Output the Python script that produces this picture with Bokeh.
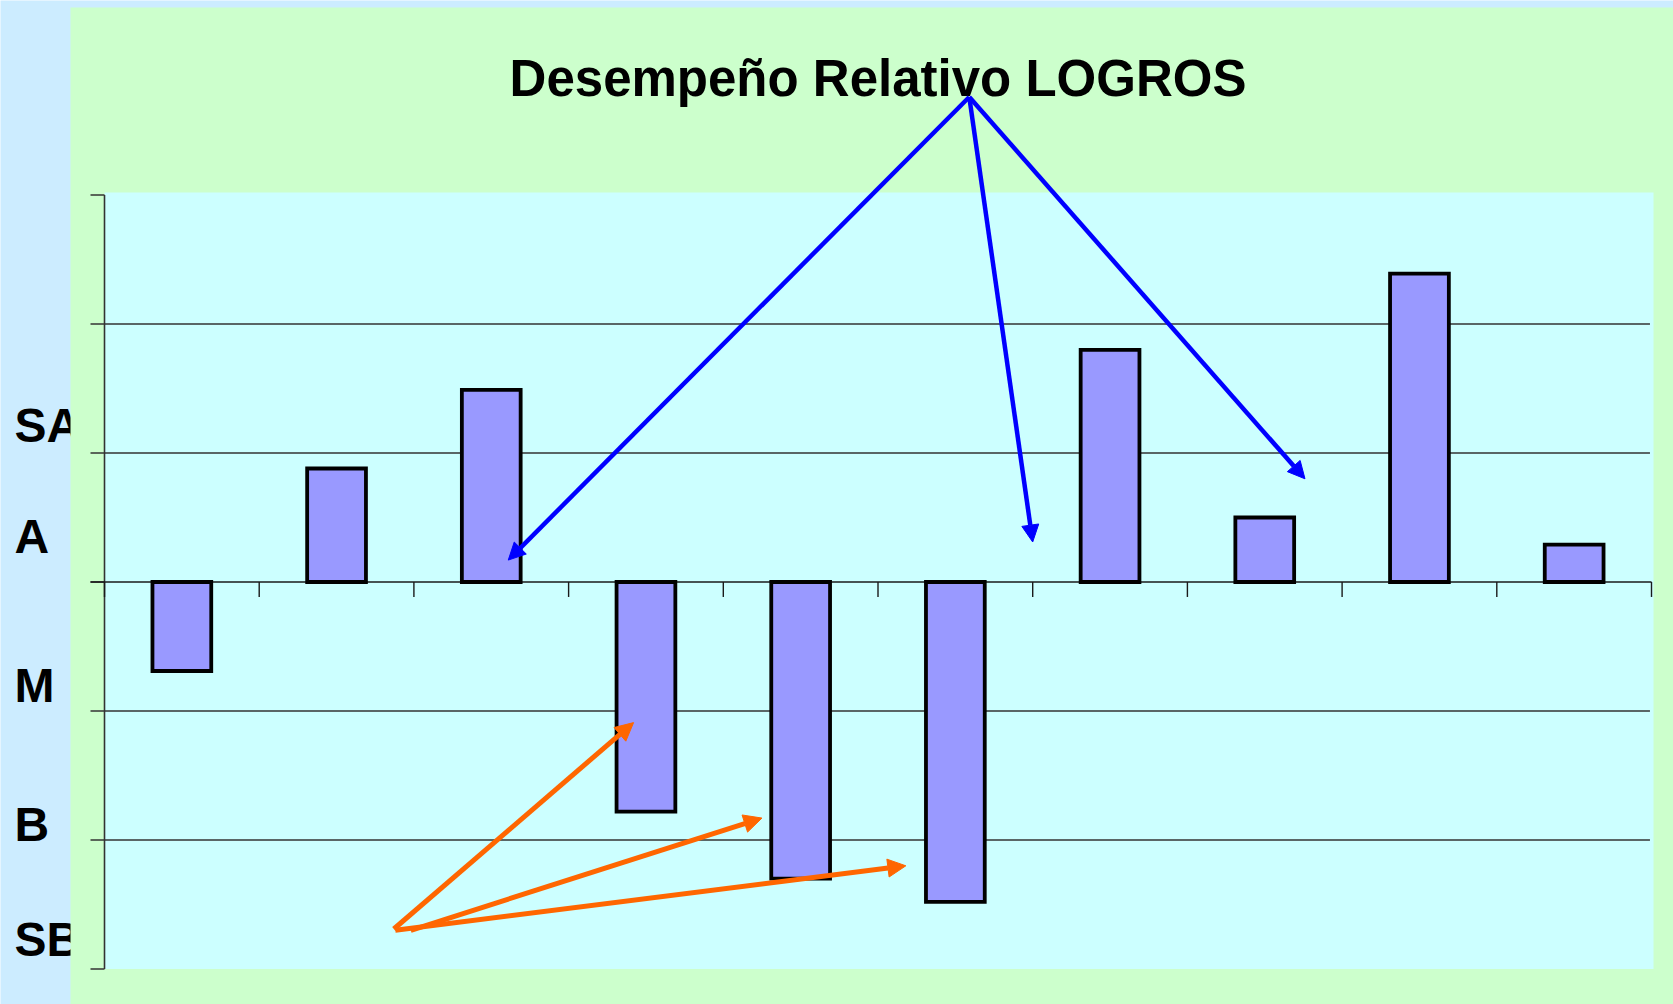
from bokeh.plotting import figure
from bokeh.models import Range1d, Arrow, NormalHead, ColumnDataSource
from bokeh.core.properties import value
from bokeh.embed import file_html
from bokeh.resources import INLINE

# ---------------- data ----------------
title_text = "Desempeño Relativo LOGROS"
bar_index = [0, 1, 2, 3, 4, 5, 6, 7, 8, 9]
bar_values = [-0.69, 0.88, 1.49, -1.78, -2.30, -2.48, 1.80, 0.50, 2.39, 0.29]
level_labels = ["SA", "A", "M", "B", "SB"]
level_label_y = [1.21, 0.35, -0.80, -1.88, -2.77]
y_ticks = [-3, -2, -1, 0, 1, 2, 3]
grid_levels = [-2, -1, 1, 2]
x_ticks = [0, 1, 2, 3, 4, 5, 6, 7, 8, 9, 10]

# annotation arrows (data coordinates)
blue_x0 = [5.59, 5.59, 5.59]
blue_y0 = [3.76, 3.76, 3.76]
blue_x1 = [2.61, 6.00, 7.76]
blue_y1 = [0.17, 0.31, 0.80]
orange_x0 = [1.87, 1.98, 1.88]
orange_y0 = [-2.69, -2.70, -2.70]
orange_x1 = [3.42, 4.25, 5.18]
orange_y1 = [-1.09, -1.83, -2.20]

# ---------------- styling ----------------
BLUE_BG = "#CCECFF"
GREEN = "#CCFFCC"
CYAN = "#CCFFFF"
BAR = "#9999FF"
LINE = "#1a1a1a"

W, H = 1673, 1004
p = figure(width=W, height=H,
           x_range=Range1d(-0.6723, 10.1422), y_range=Range1d(-3.2752, 4.5078),
           output_backend="svg", toolbar_location=None,
           x_axis_location=None, y_axis_location=None,
           min_border=0, min_border_left=0, min_border_right=0,
           min_border_top=0, min_border_bottom=0,
           outline_line_color=None,
           background_fill_color=BLUE_BG, border_fill_color=BLUE_BG)
p.grid.grid_line_color = None

# level labels (under the green panel, partly hidden as in the slide)
p.text(x=[-0.582] * len(level_labels), y=level_label_y, text=level_labels,
       text_font=value("Liberation Sans"), text_font_style="bold",
       text_font_size="48px", text_color="black",
       text_baseline="middle", text_align="left")

# green panel
p.quad(left=[-0.2198], right=[11], bottom=[-4], top=[4.4535],
       fill_color=GREEN, line_color=None)

# plot area
p.quad(left=[0.0], right=[10.013], bottom=[-3.0], top=[3.02],
       fill_color=CYAN, line_color=None)

# gridlines
p.segment(x0=[0] * len(grid_levels), x1=[9.99] * len(grid_levels),
          y0=grid_levels, y1=grid_levels, line_color="#333333", line_width=1.4)

# y axis line and ticks
p.segment(x0=[0], x1=[0], y0=[min(y_ticks)], y1=[max(y_ticks)],
          line_color="#333333", line_width=1.6)
p.segment(x0=[-0.0905] * len(y_ticks), x1=[0] * len(y_ticks),
          y0=y_ticks, y1=y_ticks, line_color="#333333", line_width=1.4)

# x axis at zero and its ticks
p.segment(x0=[-0.0905], x1=[max(x_ticks)], y0=[0], y1=[0],
          line_color=LINE, line_width=1.5)
p.segment(x0=x_ticks, x1=x_ticks, y0=[0] * len(x_ticks),
          y1=[-0.116] * len(x_ticks), line_color=LINE, line_width=1.4)

# bars
src = ColumnDataSource(dict(x=[i + 0.5 for i in bar_index], top=bar_values))
p.vbar(x="x", top="top", bottom=0, width=0.38, source=src,
       fill_color=BAR, line_color="black", line_width=3.8, line_join="miter")

# title
p.text(x=[5.0], y=[3.90], text=[title_text],
       text_font=value("Liberation Sans"), text_font_style="bold",
       text_font_size="51px", text_color="black",
       text_align="center", text_baseline="middle")

# arrows
bsrc = ColumnDataSource(dict(x0=blue_x0, y0=blue_y0, x1=blue_x1, y1=blue_y1))
p.add_layout(Arrow(end=NormalHead(size=17, fill_color="#0000FF", line_color="#0000FF"),
                   x_start="x0", y_start="y0", x_end="x1", y_end="y1",
                   source=bsrc, line_color="#0000FF", line_width=4.5))
osrc = ColumnDataSource(dict(x0=orange_x0, y0=orange_y0, x1=orange_x1, y1=orange_y1))
p.add_layout(Arrow(end=NormalHead(size=18, fill_color="#FF6600", line_color="#FF6600"),
                   x_start="x0", y_start="y0", x_end="x1", y_end="y1",
                   source=osrc, line_color="#FF6600", line_width=5))

open("out.html", "w").write(file_html(p, INLINE))
